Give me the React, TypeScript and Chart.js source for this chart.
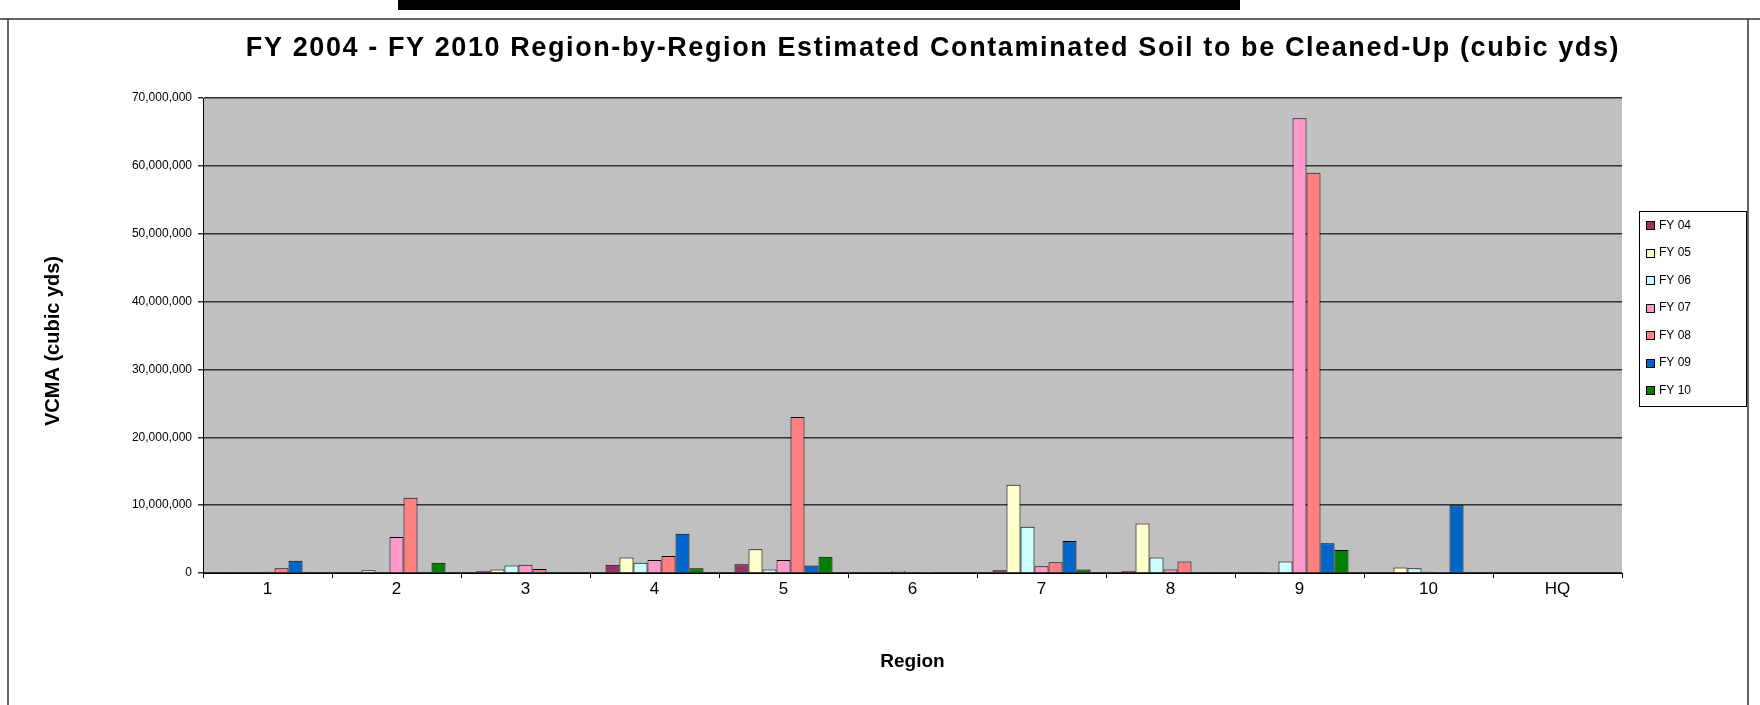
import React, { useEffect, useRef } from "react";
import { Chart, registerables } from "chart.js";

Chart.register(...registerables);

const regions = ["1", "2", "3", "4", "5", "6", "7", "8", "9", "10", "HQ"];
const seriesNames = ["FY 04", "FY 05", "FY 06", "FY 07", "FY 08", "FY 09", "FY 10"];
const seriesColors = ["#993366", "#FFFFCC", "#CCFFFF", "#FF99CC", "#FF8080", "#0066CC", "#008000"];

const fy04 = [50000, 50000, 300000, 1200000, 1300000, 50000, 400000, 300000, 50000, 50000, 0];
const fy05 = [100000, 400000, 500000, 2300000, 3500000, 100000, 13000000, 7300000, 50000, 800000, 0];
const fy06 = [100000, 100000, 1100000, 1500000, 500000, 300000, 6800000, 2300000, 1700000, 700000, 0];
const fy07 = [200000, 5300000, 1200000, 1900000, 1900000, 100000, 1000000, 500000, 67000000, 200000, 0];
const fy08 = [700000, 11100000, 600000, 2500000, 23000000, 50000, 1600000, 1700000, 59000000, 50000, 0];
const fy09 = [1800000, 200000, 50000, 5800000, 1100000, 50000, 4700000, 100000, 4400000, 10000000, 0];
const fy10 = [200000, 1500000, 50000, 700000, 2400000, 100000, 500000, 50000, 3400000, 200000, 0];

const seriesValues = [fy04, fy05, fy06, fy07, fy08, fy09, fy10];

const yTicksMax = 70000000;
const yTicksStep = 10000000;

const chartTitle = "FY 2004 - FY 2010 Region-by-Region Estimated Contaminated Soil to be Cleaned-Up (cubic yds)";
const yTitle = "VCMA (cubic yds)";
const xTitle = "Region";

const FONT = "Arial, 'Liberation Sans', sans-serif";

const decorPlugin = {
  id: "decor",
  beforeDraw(chart: any) {
    const { ctx, chartArea } = chart;
    ctx.save();
    ctx.fillStyle = "#ffffff";
    ctx.fillRect(0, 0, chart.width, chart.height);
    ctx.fillStyle = "#C0C0C0";
    ctx.fillRect(chartArea.left, chartArea.top, chartArea.right - chartArea.left, chartArea.bottom - chartArea.top);
    ctx.restore();
  },
  afterDraw(chart: any) {
    const { ctx } = chart;
    ctx.save();
    // outer border
    ctx.strokeStyle = "#333";
    ctx.lineWidth = 1.5;
    ctx.beginPath();
    ctx.moveTo(0, 19);
    ctx.lineTo(chart.width, 19);
    ctx.moveTo(8, 19);
    ctx.lineTo(8, chart.height);
    ctx.moveTo(1748, 19);
    ctx.lineTo(1748, chart.height);
    ctx.stroke();
    // black bar
    ctx.fillStyle = "#000";
    ctx.fillRect(398, 0, 842, 10);
    // title
    ctx.fillStyle = "#000";
    ctx.font = "bold 27px " + FONT;
    (ctx as any).letterSpacing = "1.6px";
    ctx.textAlign = "center";
    ctx.textBaseline = "middle";
    ctx.fillText(chartTitle, 933, 49);
    (ctx as any).letterSpacing = "0px";
    // y axis title
    ctx.save();
    ctx.translate(53, 341);
    ctx.rotate(-Math.PI / 2);
    ctx.font = "bold 20px " + FONT;
    ctx.textAlign = "center";
    ctx.textBaseline = "middle";
    ctx.fillText(yTitle, 0, 0);
    ctx.restore();
    // legend
    const lx = 1639, ly = 211, lw = 107, lh = 195;
    ctx.fillStyle = "#fff";
    ctx.fillRect(lx, ly, lw, lh);
    ctx.strokeStyle = "#000";
    ctx.lineWidth = 1;
    ctx.strokeRect(lx + 0.5, ly + 0.5, lw, lh);
    ctx.font = "12px " + FONT;
    ctx.textAlign = "left";
    ctx.textBaseline = "middle";
    chart.data.datasets.forEach((ds: any, i: number) => {
      const cy = 225.5 + i * 27.5;
      ctx.fillStyle = ds.backgroundColor;
      ctx.fillRect(1646, Math.round(cy - 4.5), 9, 9);
      ctx.strokeStyle = "#000";
      ctx.strokeRect(1646.5, Math.round(cy - 4.5) + 0.5, 8, 8);
      ctx.fillStyle = "#000";
      ctx.fillText(ds.label, 1659, cy);
    });
    ctx.restore();
  },
};

export default function App() {
  const ref = useRef<HTMLCanvasElement>(null);
  useEffect(() => {
    if (!ref.current) return;
    const chart = new Chart(ref.current, {
      type: "bar",
      data: {
        labels: regions,
        datasets: seriesNames.map((name, i) => ({
          label: name,
          data: seriesValues[i],
          backgroundColor: seriesColors[i],
          borderColor: "#000",
          borderWidth: 1,
          categoryPercentage: 0.76,
          barPercentage: 1.0,
        })),
      },
      options: {
        responsive: false,
        animation: false,
        devicePixelRatio: 1,
        layout: { padding: { left: 20, right: 138, top: 98, bottom: 10 } },
        plugins: {
          legend: { display: false },
          title: { display: false },
          tooltip: { enabled: false },
        },
        scales: {
          x: {
            afterFit: (scale: any) => {
              scale.height = 705 - 10 - 573;
            },
            grid: { drawOnChartArea: false, drawTicks: true, tickLength: 5, color: "#000", offset: true },
            border: { display: true, color: "#000", width: 1 },
            ticks: { color: "#000", font: { family: FONT, size: 17 }, padding: 1 },
            title: {
              display: true,
              text: xTitle,
              color: "#000",
              font: { family: FONT, size: 19, weight: "bold" },
              padding: { top: 0, bottom: 22 },
            },
          },
          y: {
            min: 0,
            max: yTicksMax,
            afterFit: (scale: any) => {
              scale.width = 203 - 20;
            },
            grid: { color: "#333", lineWidth: 1.5, drawTicks: true, tickLength: 5 },
            border: { display: true, color: "#000", width: 1 },
            ticks: {
              stepSize: yTicksStep,
              color: "#000",
              padding: 6,
              font: { family: FONT, size: 12 },
              callback: (v: any) => Number(v).toLocaleString("en-US"),
            },
            title: { display: false },
          },
        },
      },
      plugins: [decorPlugin],
    });
    return () => chart.destroy();
  }, []);
  return (
    <div style={{ position: "absolute", left: 0, top: 0, width: 1760, height: 705 }}>
      <canvas ref={ref} width={1760} height={705} style={{ width: 1760, height: 705, display: "block" }} />
    </div>
  );
}
